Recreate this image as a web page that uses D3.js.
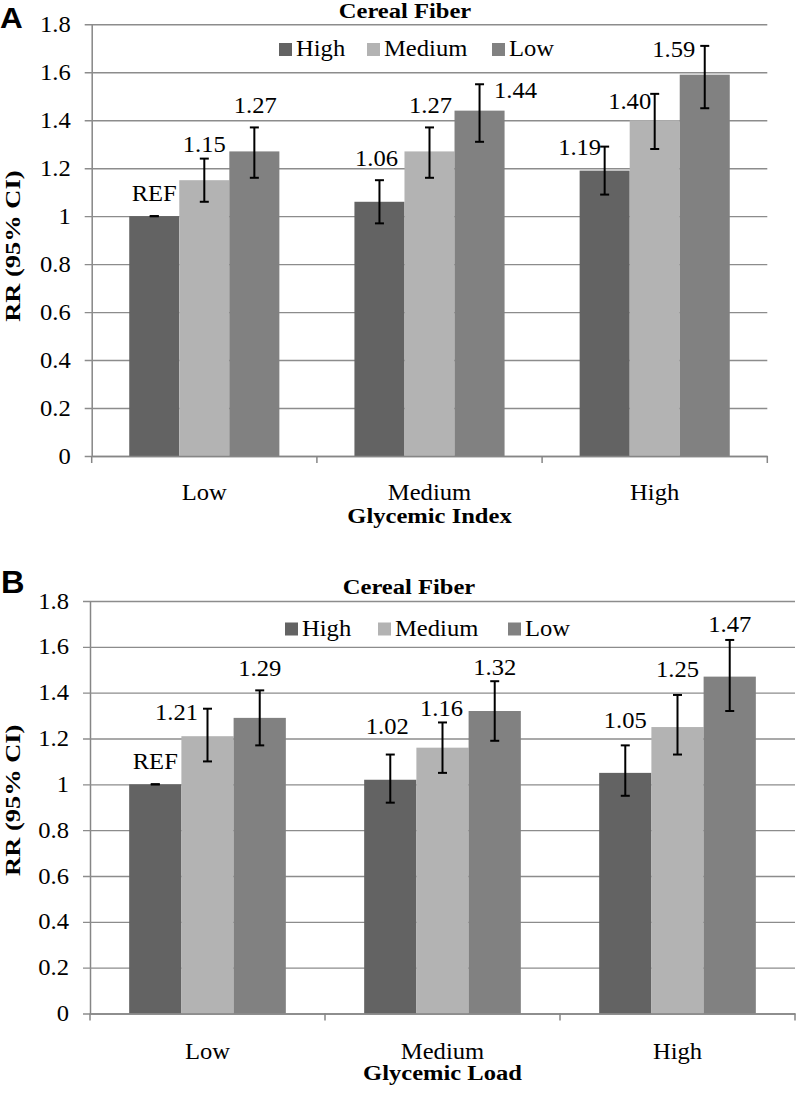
<!DOCTYPE html>
<html><head><meta charset="utf-8">
<script src="https://cdn.jsdelivr.net/npm/d3@7"></script>
<style>body{margin:0;background:#fff}svg{display:block}</style>
</head><body>
<svg id="c" width="797" height="1097"></svg>
<script>
// ---------- data ----------
const seriesNames = ["High", "Medium", "Low"];          // cereal fiber level
const groupsA = ["Low", "Medium", "High"];               // glycemic index
const groupsB = ["Low", "Medium", "High"];               // glycemic load
const yTickValues = [0, 0.2, 0.4, 0.6, 0.8, 1, 1.2, 1.4, 1.6, 1.8];
const yTickLabels = ["0", "0.2", "0.4", "0.6", "0.8", "1", "1.2", "1.4", "1.6", "1.8"];

// Panel A: Glycemic Index
const giHigh   = [1.00, 1.06, 1.19];
const giMedium = [1.15, 1.27, 1.40];
const giLow    = [1.27, 1.44, 1.59];
const giHighLo   = [1.00, 0.97, 1.09];
const giHighHi   = [1.00, 1.15, 1.29];
const giMediumLo = [1.06, 1.16, 1.28];
const giMediumHi = [1.24, 1.37, 1.51];
const giLowLo    = [1.16, 1.31, 1.45];
const giLowHi    = [1.37, 1.55, 1.71];
const giHighLabels   = ["REF", "1.06", "1.19"];
const giMediumLabels = ["1.15", "1.27", "1.40"];
const giLowLabels    = ["1.27", "1.44", "1.59"];

// Panel B: Glycemic Load
const glHigh   = [1.00, 1.02, 1.05];
const glMedium = [1.21, 1.16, 1.25];
const glLow    = [1.29, 1.32, 1.47];
const glHighLo   = [1.00, 0.92, 0.95];
const glHighHi   = [1.00, 1.13, 1.17];
const glMediumLo = [1.10, 1.05, 1.13];
const glMediumHi = [1.33, 1.27, 1.39];
const glLowLo    = [1.17, 1.19, 1.32];
const glLowHi    = [1.41, 1.45, 1.63];
const glHighLabels   = ["REF", "1.02", "1.05"];
const glMediumLabels = ["1.21", "1.16", "1.25"];
const glLowLabels    = ["1.29", "1.32", "1.47"];

// ---------- style (label nudges relative to the error-bar top, px) ----------
const labelNudgeA = {
  High:   [[0, -15], [-3, -14], [-25, 8]],
  Medium: [[0, -7], [1, -14], [-25, 15]],
  Low:    [[1, -14], [36, 14], [-31, 11]]
};
const labelNudgeB = {
  High:   [[0, -15], [-3, -21], [0, -17]],
  Medium: [[-31, 11], [-1, -6], [0, -18]],
  Low:    [[0, -14], [0, -6], [0, -8]]
};
const colors = { High: "#636363", Medium: "#b3b3b3", Low: "#818181" };

const svg = d3.select("#c");
const SERIF = "'Liberation Serif','Times New Roman',serif";
const SX = 1.07, SXB = 1.17;

function txt(g, x, y, s, opts = {}) {
  const sx = opts.bold ? SXB : SX;
  return g.append("text")
    .attr("transform", `translate(${x},${y}) rotate(${opts.rot || 0}) scale(${opts.sx || sx},1)`)
    .attr("text-anchor", opts.anchor || "middle")
    .attr("font-family", opts.family || SERIF)
    .attr("font-size", opts.size || 23)
    .attr("font-weight", opts.bold ? "bold" : "normal")
    .attr("fill", "#000")
    .text(s);
}

function panel(cfg) {
  const g = svg.append("g");
  const x0 = d3.scaleBand().domain(cfg.groups).range([cfg.left, cfg.right]).paddingInner(0).paddingOuter(0);
  const x1 = d3.scaleBand().domain(seriesNames).range([0, x0.bandwidth()]).paddingInner(0).paddingOuter(0.75);
  const y = d3.scaleLinear().domain([0, 1.8]).range([cfg.bottom, cfg.top]);

  // gridlines + y axis ticks
  const yAxis = d3.axisLeft(y).tickValues(yTickValues).tickFormat((d, i) => yTickLabels[i])
    .tickSize(-(cfg.right - cfg.left)).tickSizeOuter(0).tickPadding(14);
  const ga = g.append("g").attr("transform", `translate(${cfg.left},0)`).call(yAxis);
  ga.select(".domain").attr("stroke", "#868686").attr("stroke-width", 1.5);
  ga.selectAll(".tick line").attr("stroke", "#8c8c8c").attr("stroke-width", 1.4).attr("x1", -7);
  ga.selectAll(".tick text").remove();
  yTickValues.forEach((v, i) => {
    txt(g, cfg.left - 21, y(v) + 7.5, yTickLabels[i], { anchor: "end" });
  });

  // bars
  const seriesVals = { High: cfg.high, Medium: cfg.medium, Low: cfg.low };
  const seriesLo = { High: cfg.highLo, Medium: cfg.mediumLo, Low: cfg.lowLo };
  const seriesHi = { High: cfg.highHi, Medium: cfg.mediumHi, Low: cfg.lowHi };
  const seriesLab = { High: cfg.highLab, Medium: cfg.mediumLab, Low: cfg.lowLab };
  seriesNames.forEach(s => {
    g.selectAll(null).data(cfg.groups).enter().append("rect")
      .attr("x", d => x0(d) + x1(s))
      .attr("width", x1.bandwidth())
      .attr("y", (d, i) => y(seriesVals[s][i]))
      .attr("height", (d, i) => y(0) - y(seriesVals[s][i]))
      .attr("fill", colors[s]);
  });

  // x axis line + ticks
  const xAxis = d3.axisBottom(x0).tickValues([]).tickSizeOuter(0);
  const gx = g.append("g").attr("transform", `translate(0,${cfg.bottom})`).call(xAxis);
  gx.select(".domain").attr("stroke", "#868686").attr("stroke-width", 1.5);
  const bounds = cfg.groups.map(d => x0(d)).concat([cfg.right]);
  g.selectAll(null).data(bounds).enter().append("line")
    .attr("x1", d => d).attr("x2", d => d)
    .attr("y1", cfg.bottom).attr("y2", cfg.bottom + 7)
    .attr("stroke", "#868686").attr("stroke-width", 1.5);

  // error bars + labels
  seriesNames.forEach(s => {
    cfg.groups.forEach((grp, i) => {
      const cx = x0(grp) + x1(s) + x1.bandwidth() / 2;
      const yl = y(seriesLo[s][i]), yh = y(seriesHi[s][i]);
      g.append("line").attr("x1", cx).attr("x2", cx).attr("y1", yl).attr("y2", yh)
        .attr("stroke", "#000").attr("stroke-width", 2);
      [yl, yh].forEach(yy => g.append("line").attr("x1", cx - 4.5).attr("x2", cx + 4.5)
        .attr("y1", yy).attr("y2", yy).attr("stroke", "#000").attr("stroke-width", 2));
      const nd = cfg.nudge[s][i];
      txt(g, cx + nd[0], yh + nd[1], seriesLab[s][i]);
    });
  });

  // category labels
  cfg.groups.forEach(grp => txt(g, x0(grp) + x0.bandwidth() / 2, cfg.catY, grp));

  // titles
  const mid = (cfg.left + cfg.right) / 2;
  txt(g, cfg.titleX, cfg.titleY, "Cereal Fiber", { bold: true, size: 21 });
  txt(g, mid, cfg.xTitleY, cfg.xTitle, { bold: true, size: 21 });
  txt(g, 20, (cfg.top + cfg.bottom) / 2 + cfg.yTitleDy, "RR (95% CI)", { bold: true, size: 21, rot: -90, sx: 1.26 });
  txt(g, cfg.letterX, cfg.letterY, cfg.letter, { family: "'Liberation Sans',Arial,sans-serif", bold: true, size: cfg.letterSize, anchor: "start", sx: 1.05 });

  // legend
  const legX = cfg.legendX, legY = cfg.legendY, sq = 13;
  const gaps = cfg.legendStep;
  seriesNames.forEach((s, i) => {
    const lx = legX + gaps[i];
    g.append("rect").attr("x", lx).attr("y", legY - sq).attr("width", sq).attr("height", sq).attr("fill", colors[s]);
    txt(g, lx + sq + 4, legY, s, { anchor: "start" });
  });
}

panel({
  groups: groupsA, left: 91.7, right: 767.3, top: 24.3, bottom: 456,
  high: giHigh, medium: giMedium, low: giLow,
  highLo: giHighLo, highHi: giHighHi, mediumLo: giMediumLo, mediumHi: giMediumHi, lowLo: giLowLo, lowHi: giLowHi,
  highLab: giHighLabels, mediumLab: giMediumLabels, lowLab: giLowLabels,
  nudge: labelNudgeA, catY: 499.5, xTitle: "Glycemic Index", xTitleY: 522.5,
  titleX: 405, titleY: 18, yTitleDy: 6, letter: "A", letterX: 0, letterY: 27.5, letterSize: 30,
  legendX: 279, legendY: 56, legendStep: [0, 88, 213]
});
panel({
  groups: groupsB, left: 90, right: 795, top: 601, bottom: 1013.5,
  high: glHigh, medium: glMedium, low: glLow,
  highLo: glHighLo, highHi: glHighHi, mediumLo: glMediumLo, mediumHi: glMediumHi, lowLo: glLowLo, lowHi: glLowHi,
  highLab: glHighLabels, mediumLab: glMediumLabels, lowLab: glLowLabels,
  nudge: labelNudgeB, catY: 1058.5, xTitle: "Glycemic Load", xTitleY: 1080,
  titleX: 409, titleY: 594, yTitleDy: -7, letter: "B", letterX: 1, letterY: 593, letterSize: 31,
  legendX: 285, legendY: 635.5, legendStep: [0, 93, 223]
});
</script>
</body></html>
